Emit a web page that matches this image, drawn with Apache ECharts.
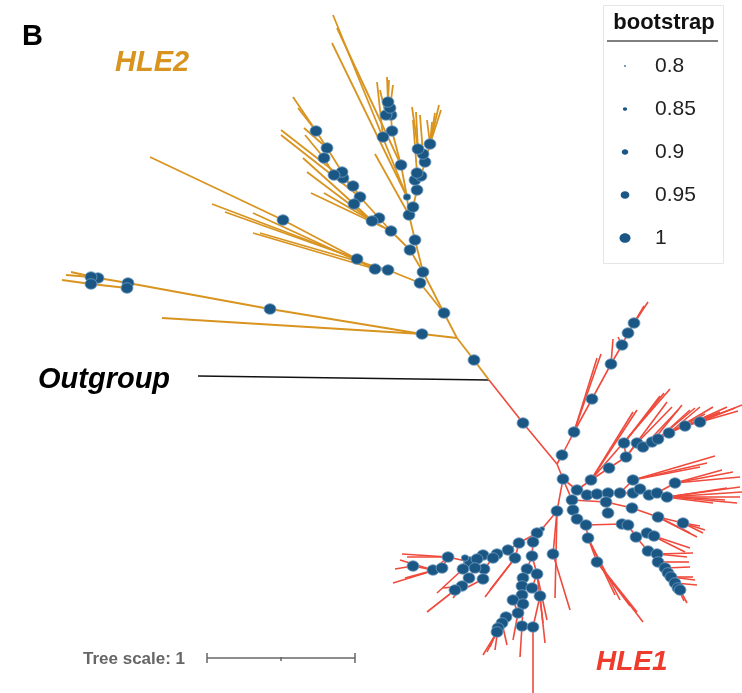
<!DOCTYPE html>
<html>
<head>
<meta charset="utf-8">
<script src="https://cdn.jsdelivr.net/npm/echarts@6/dist/echarts.min.js"></script>
<style>
  html, body { margin: 0; padding: 0; background: #fff; }
  #tree { width: 742px; height: 693px; }
</style>
</head>
<body>
<div id="tree"></div>
<script>
// tree layout, in layout units (148 units = tree scale 1)
// rows: [id, x, y, parentId, bootstrap]  (bootstrap null = leaf, 0 = node without support dot)
var rootNode = [489, 380];
var outgroupTip = [198, 376];

var hle2Nodes = [
  ['a0', 474, 360, 'R', 1], ['a1', 457, 338, 'a0', 0], ['a2', 422, 334, 'a1', 1],
  ['', 162, 318, 'a2', null],
  ['a3', 270, 309, 'a2', 1], ['a4', 128, 283, 'a3', 1], ['a5', 127, 288, 'a4', 1],
  ['a6', 98, 278, 'a4', 1], ['a7', 91, 277, 'a6', 1], ['a8', 91, 284, 'a5', 1],
  ['', 71, 272, 'a6', null], ['', 66, 275, 'a7', null], ['', 62, 280, 'a8', null],
  ['a9', 444, 313, 'a1', 1], ['a10', 423, 272, 'a9', 1], ['a11', 420, 283, 'a9', 1],
  ['a12', 388, 270, 'a11', 1], ['a13', 375, 269, 'a12', 1], ['a14', 357, 259, 'a13', 1],
  ['a15', 283, 220, 'a14', 1],
  ['', 150, 157, 'a15', null], ['', 212, 204, 'a14', null], ['', 225, 212, 'a14', null],
  ['', 253, 213, 'a13', null], ['', 253, 233, 'a13', null], ['', 260, 233, 'a12', null],
  ['a16', 415, 240, 'a10', 1], ['a17', 410, 250, 'a10', 1],
  ['a18', 391, 231, 'a17', 1], ['a19', 379, 218, 'a18', 1], ['a20', 372, 221, 'a18', 1],
  ['a21', 360, 197, 'a19', 1], ['a22', 354, 204, 'a20', 1], ['a23', 353, 186, 'a21', 1],
  ['a24', 343, 178, 'a23', 1], ['a25', 342, 172, 'a24', 1], ['a26', 334, 175, 'a24', 1],
  ['a27', 327, 148, 'a25', 1], ['a28', 324, 158, 'a26', 1], ['a29', 316, 131, 'a27', 1],
  ['', 293, 97, 'a29', null], ['', 298, 108, 'a29', null], ['', 304, 128, 'a27', null],
  ['', 281, 130, 'a23', null], ['', 281, 135, 'a21', null], ['', 305, 135, 'a28', null],
  ['', 303, 158, 'a22', null], ['', 307, 172, 'a20', null], ['', 311, 193, 'a18', null],
  ['', 324, 193, 'a20', null],
  ['a30', 409, 215, 'a16', 1], ['a31', 413, 207, 'a30', 1], ['a32', 407, 197, 'a30', 0.9],
  ['a33', 401, 165, 'a32', 1], ['a34', 392, 131, 'a33', 1], ['a35', 383, 137, 'a34', 1],
  ['a36', 391, 115, 'a34', 1], ['a37', 386, 115, 'a36', 1], ['a38', 390, 108, 'a36', 1],
  ['a39', 388, 102, 'a38', 1],
  ['', 333, 15, 'a32', null], ['', 337, 28, 'a33', null], ['', 332, 43, 'a32', null],
  ['', 375, 154, 'a30', null], ['', 377, 82, 'a35', null], ['', 380, 90, 'a37', null],
  ['', 387, 77, 'a39', null], ['', 389, 80, 'a39', null], ['', 393, 85, 'a38', null],
  ['a40', 417, 190, 'a31', 1], ['a41', 415, 180, 'a40', 1], ['a42', 421, 176, 'a41', 1],
  ['a43', 417, 173, 'a41', 1], ['a44', 425, 162, 'a42', 1], ['a45', 423, 154, 'a44', 1],
  ['a46', 418, 149, 'a45', 1], ['a47', 430, 144, 'a44', 1],
  ['', 412, 107, 'a46', null], ['', 416, 112, 'a46', null], ['', 420, 115, 'a45', null],
  ['', 413, 120, 'a43', null], ['', 427, 120, 'a47', null], ['', 432, 122, 'a47', null],
  ['', 435, 113, 'a47', null], ['', 439, 105, 'a47', null], ['', 441, 110, 'a47', null]
];

var hle1Nodes = [
  ['b0', 523, 423, 'R', 1], ['b1', 557, 464, 'b0', 0],
  ['u1', 562, 455, 'b1', 1], ['u2', 574, 432, 'u1', 1], ['u3', 592, 399, 'u2', 1],
  ['u4', 611, 364, 'u3', 1], ['u5', 622, 345, 'u4', 1], ['u6', 628, 333, 'u5', 1],
  ['u7', 634, 323, 'u6', 1],
  ['', 648, 302, 'u7', null], ['', 644, 306, 'u7', null], ['', 641, 312, 'u6', null],
  ['', 618, 337, 'u5', null], ['', 613, 339, 'u4', null], ['', 601, 354, 'u2', null],
  ['', 597, 358, 'u2', null],
  ['h2', 563, 479, 'b1', 1],
  ['f1', 577, 490, 'h2', 1], ['f2', 591, 480, 'f1', 1], ['f3', 609, 468, 'f2', 1],
  ['f4', 626, 457, 'f3', 1], ['f11', 624, 443, 'f4', 1], ['f5', 637, 443, 'f4', 1],
  ['f12', 643, 447, 'f5', 1], ['f6', 652, 442, 'f5', 1], ['f7', 658, 439, 'f6', 1],
  ['f8', 669, 433, 'f7', 1], ['f9', 685, 426, 'f8', 1], ['f10', 700, 422, 'f9', 1],
  ['', 670, 389, 'f2', null], ['', 660, 396, 'f11', null], ['', 664, 393, 'f11', null],
  ['', 637, 410, 'f2', null], ['', 633, 412, 'f2', null], ['', 672, 407, 'f5', null],
  ['', 667, 402, 'f4', null], ['', 682, 405, 'f6', null],
  ['', 678, 410, 'f12', null], ['', 690, 410, 'f7', null], ['', 695, 408, 'f7', null],
  ['', 700, 407, 'f8', null], ['', 705, 414, 'f8', null], ['', 713, 407, 'f8', null],
  ['', 720, 412, 'f9', null], ['', 727, 407, 'f9', null], ['', 735, 408, 'f9', null],
  ['', 742, 405, 'f10', null], ['', 738, 411, 'f10', null],
  ['m1', 587, 495, 'f1', 1], ['m2', 597, 494, 'm1', 1], ['m3', 608, 493, 'm2', 1],
  ['m4', 620, 493, 'm3', 1], ['m5', 633, 493, 'm4', 1], ['m6', 633, 480, 'm4', 1],
  ['m7', 640, 489, 'm5', 1], ['m8', 649, 495, 'm7', 1], ['m9', 657, 493, 'm8', 1],
  ['m10', 667, 497, 'm9', 1], ['m11', 675, 483, 'm9', 1],
  ['', 715, 456, 'm6', null], ['', 707, 463, 'm6', null], ['', 700, 467, 'm6', null],
  ['', 740, 477, 'm11', null], ['', 733, 472, 'm11', null], ['', 722, 470, 'm11', null],
  ['', 740, 487, 'm10', null], ['', 727, 488, 'm10', null], ['', 742, 492, 'm10', null],
  ['', 740, 497, 'm10', null], ['', 737, 503, 'm8', null], ['', 725, 500, 'm8', null],
  ['', 713, 503, 'm8', null],
  ['l1', 572, 500, 'h2', 1], ['l2', 606, 502, 'l1', 1], ['l3', 608, 513, 'l2', 1],
  ['l4', 632, 508, 'l2', 1], ['l5', 658, 517, 'l4', 1], ['l6', 683, 523, 'l5', 1],
  ['', 705, 530, 'l6', null], ['', 700, 526, 'l6', null], ['', 703, 533, 'l6', null],
  ['', 690, 533, 'l5', null], ['', 697, 537, 'l5', null],
  ['d0', 573, 510, 'l1', 1], ['d1', 577, 519, 'd0', 1], ['d2', 586, 525, 'd1', 1],
  ['l7', 622, 524, 'd2', 1], ['l8', 628, 525, 'l7', 1], ['l9', 636, 537, 'l8', 1],
  ['l10', 647, 533, 'l9', 1], ['l11', 654, 536, 'l10', 1],
  ['', 690, 548, 'l11', null], ['', 685, 552, 'l10', null],
  ['r1', 648, 551, 'l9', 1], ['r2', 657, 554, 'r1', 1], ['r3', 658, 562, 'r2', 1],
  ['r4', 665, 568, 'r3', 1], ['r5', 668, 573, 'r4', 1], ['r6', 671, 577, 'r5', 1],
  ['r7', 675, 583, 'r6', 1], ['r8', 678, 588, 'r7', 1], ['r9', 680, 590, 'r8', 1],
  ['', 687, 603, 'r9', null], ['', 684, 601, 'r8', null], ['', 697, 585, 'r7', null],
  ['', 695, 580, 'r6', null], ['', 693, 577, 'r6', null], ['', 690, 567, 'r4', null],
  ['', 689, 562, 'r3', null], ['', 687, 557, 'r2', null], ['', 693, 553, 'r2', null],
  ['dc1', 588, 538, 'd2', 1], ['dc2', 597, 562, 'dc1', 1],
  ['', 643, 622, 'dc2', null], ['', 637, 612, 'dc2', null], ['', 630, 606, 'dc2', null],
  ['', 615, 595, 'dc1', null], ['', 620, 600, 'dc1', null],
  ['dl1', 557, 511, 'h2', 1], ['dl2', 553, 554, 'dl1', 1],
  ['', 570, 610, 'dl2', null], ['', 555, 598, 'dl1', null],
  ['c1', 542, 529, 'dl1', 0.85], ['c2', 537, 533, 'c1', 1], ['c3', 519, 543, 'c2', 1],
  ['c4', 508, 550, 'c3', 1], ['c5', 497, 554, 'c4', 1], ['c6', 483, 555, 'c5', 1],
  ['c7', 470, 562, 'c6', 1], ['c8', 448, 557, 'c7', 1], ['c9', 433, 570, 'c8', 1],
  ['c10', 413, 566, 'c9', 1], ['c11', 493, 558, 'c5', 1], ['c12', 477, 559, 'c6', 1],
  ['c13', 465, 558, 'c7', 0.9], ['c14', 442, 568, 'c8', 1], ['c15', 484, 569, 'c11', 1],
  ['c16', 475, 568, 'c12', 1], ['c17', 463, 569, 'c13', 1], ['c18', 483, 579, 'c15', 1],
  ['c19', 469, 578, 'c16', 1], ['c20', 462, 586, 'c19', 1], ['c21', 455, 590, 'c20', 1],
  ['c23', 515, 558, 'c3', 1],
  ['', 395, 569, 'c10', null], ['', 400, 560, 'c9', null], ['', 407, 557, 'c8', null],
  ['', 402, 554, 'c8', null], ['', 393, 583, 'c14', null], ['', 405, 578, 'c14', null],
  ['', 427, 612, 'c21', null], ['', 437, 593, 'c17', null], ['', 443, 588, 'c20', null],
  ['', 453, 598, 'c19', null], ['', 468, 587, 'c18', null], ['', 485, 597, 'c23', null],
  ['', 490, 590, 'c23', null],
  ['k1', 533, 542, 'c1', 1], ['k2', 532, 556, 'k1', 1], ['k3', 527, 569, 'k2', 1],
  ['k4', 537, 574, 'k2', 1], ['k5', 523, 578, 'k3', 1], ['k6', 522, 586, 'k5', 1],
  ['k7', 532, 588, 'k4', 1], ['k8', 540, 596, 'k7', 1], ['k9', 522, 595, 'k6', 1],
  ['k10', 513, 600, 'k9', 1], ['k11', 523, 604, 'k9', 1], ['k12', 518, 613, 'k10', 1],
  ['k13', 506, 617, 'k12', 1], ['k14', 502, 623, 'k13', 1], ['k15', 498, 628, 'k14', 1],
  ['k16', 497, 632, 'k15', 1], ['k17', 522, 626, 'k11', 1], ['k18', 533, 627, 'k8', 1],
  ['', 533, 693, 'k18', null], ['', 520, 657, 'k17', null], ['', 483, 655, 'k16', null],
  ['', 487, 652, 'k16', null], ['', 490, 647, 'k15', null], ['', 495, 650, 'k15', null],
  ['', 507, 645, 'k14', null], ['', 513, 640, 'k12', null], ['', 545, 643, 'k8', null],
  ['', 543, 623, 'k4', null], ['', 547, 620, 'k4', null]
];

var bootstrapLevels = [0.8, 0.85, 0.9, 0.95, 1];
var bootstrapLabels = ['0.8', '0.85', '0.9', '0.95', '1'];
var scaleBarStart = 207;
var scaleBarLength = 148; // = 1 substitution / site
var scaleBarLabel = 'Tree scale: 1';

var FONT = '"Liberation Sans", Arial, Helvetica, sans-serif';
var ORANGE = '#d8941f';
var RED = '#ef4a3c';
var DOT = '#1b5784';

function dotSize(b) {
  var w = 3 + (b - 0.8) / 0.05 * 2.25;
  return [w, w * 0.88];
}

var pos = { R: rootNode };
function buildBranches(rows) {
  var lines = [];
  rows.forEach(function (r) {
    if (r[0]) pos[r[0]] = [r[1], r[2]];
    lines.push({ coords: [pos[r[3]], [r[1], r[2]]] });
  });
  return lines;
}
function buildDots(rows) {
  return rows.filter(function (r) { return r[4]; })
    .map(function (r) { return [r[1], r[2], r[4]]; });
}

var hle2Lines = buildBranches(hle2Nodes);
var hle1Lines = buildBranches(hle1Nodes);
var dots = buildDots(hle2Nodes).concat(buildDots(hle1Nodes));

var scaleY = 658;
var scaleLines = [
  { coords: [[scaleBarStart, scaleY], [scaleBarStart + scaleBarLength, scaleY]] },
  { coords: [[scaleBarStart, scaleY - 5], [scaleBarStart, scaleY + 5]] },
  { coords: [[scaleBarStart + scaleBarLength, scaleY - 5], [scaleBarStart + scaleBarLength, scaleY + 5]] },
  { coords: [[scaleBarStart + scaleBarLength / 2, scaleY - 1], [scaleBarStart + scaleBarLength / 2, scaleY + 3]] }
];

// legend for bootstrap sizes
var legendGraphic = [
  { type: 'rect', shape: { x: 603.5, y: 5.5, width: 120, height: 258 },
    style: { fill: '#fff', stroke: '#e6e6e6', lineWidth: 1 } },
  { type: 'text', x: 664, y: 23,
    style: { text: 'bootstrap', font: 'bold 22px ' + FONT, fill: '#111', align: 'center', verticalAlign: 'middle' } },
  { type: 'line', shape: { x1: 607, y1: 41, x2: 718, y2: 41 }, style: { stroke: '#555', lineWidth: 1.5 } }
];
bootstrapLevels.forEach(function (b, i) {
  var cy = 66 + i * 43;
  var s = dotSize(b);
  legendGraphic.push({ type: 'ellipse', shape: { cx: 625, cy: cy, rx: s[0] / 2 - 0.5, ry: s[1] / 2 - 0.5 },
    style: { fill: DOT } });
  legendGraphic.push({ type: 'text', x: 655, y: cy,
    style: { text: bootstrapLabels[i], font: '21px ' + FONT, fill: '#222', verticalAlign: 'middle' } });
});

var textGraphic = [
  { type: 'text', x: 22, y: 37, style: { text: 'B', font: 'bold 29px ' + FONT, fill: '#000', verticalAlign: 'middle' } },
  { type: 'text', x: 115, y: 63, style: { text: 'HLE2', font: 'italic bold 29px ' + FONT, fill: ORANGE, verticalAlign: 'middle' } },
  { type: 'text', x: 38, y: 380, style: { text: 'Outgroup', font: 'italic bold 29px ' + FONT, fill: '#000', verticalAlign: 'middle' } },
  { type: 'text', x: 596, y: 662, style: { text: 'HLE1', font: 'italic bold 28px ' + FONT, fill: '#ee3b2c', verticalAlign: 'middle' } },
  { type: 'text', x: 83, y: 659, style: { text: scaleBarLabel, font: 'bold 17px ' + FONT, fill: '#666', verticalAlign: 'middle' } }
];

var myChart = echarts.init(document.getElementById('tree'));
myChart.setOption({
  animation: false,
  backgroundColor: '#fff',
  grid: { left: 0, right: 0, top: 0, bottom: 0 },
  xAxis: { type: 'value', min: 0, max: 742, show: false },
  yAxis: { type: 'value', min: 0, max: 693, inverse: true, show: false },
  graphic: legendGraphic.concat(textGraphic),
  series: [
    {
      type: 'lines', coordinateSystem: 'cartesian2d', z: 2,
      lineStyle: { color: '#111', width: 1.6, opacity: 1 },
      data: [{ coords: [rootNode, outgroupTip] }]
    },
    {
      type: 'lines', coordinateSystem: 'cartesian2d', z: 2,
      lineStyle: { color: ORANGE, width: 1.8, opacity: 1 },
      data: hle2Lines
    },
    {
      type: 'lines', coordinateSystem: 'cartesian2d', z: 2,
      lineStyle: { color: RED, width: 1.6, opacity: 1 },
      data: hle1Lines
    },
    {
      type: 'lines', coordinateSystem: 'cartesian2d', z: 2,
      lineStyle: { color: '#666', width: 1.5, opacity: 1 },
      data: scaleLines
    },
    {
      type: 'scatter', z: 3,
      symbolSize: function (v) { return dotSize(v[2]); },
      itemStyle: { color: DOT, borderColor: '#6f9cc0', borderWidth: 0.8, opacity: 1 },
      data: dots
    }
  ]
});
</script>
</body>
</html>
